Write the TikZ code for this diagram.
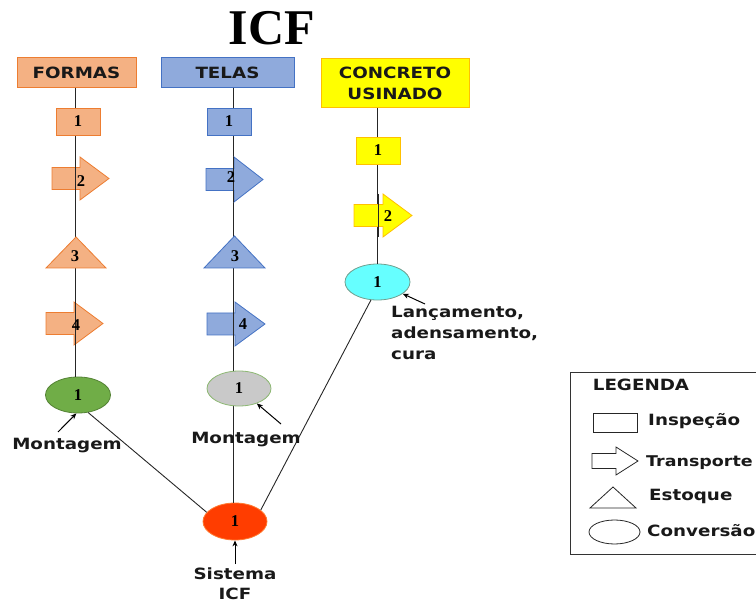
\documentclass[tikz,border=0pt]{standalone}
\usepackage{fontspec}
\setmainfont{Liberation Serif}
\newfontfamily\lab[FakeStretch=1.18]{DejaVu Sans}
\usetikzlibrary{shapes.geometric,arrows.meta}
\definecolor{orfill}{HTML}{F4B183}
\definecolor{ordraw}{HTML}{ED7D31}
\definecolor{blfill}{HTML}{8FAADC}
\definecolor{bldraw}{HTML}{4472C4}
\definecolor{yefill}{HTML}{FFFF00}
\definecolor{yedraw}{HTML}{FFC000}
\definecolor{grfill}{HTML}{70AD47}
\definecolor{grdraw}{HTML}{548235}
\definecolor{gyfill}{HTML}{C9C9C9}
\definecolor{gydraw}{HTML}{8DB873}
\definecolor{cyfill}{HTML}{66FFFF}
\definecolor{cydraw}{HTML}{6F9F8F}
\definecolor{rdfill}{HTML}{FF3D00}
\definecolor{rddraw}{HTML}{FF7A30}
% block arrow: x0, y, length, body length, body half, head half, style
\newcommand\blkarrow[7]{%
  \draw[#7] ({#1},{#2-#5}) -- ({#1+#4},{#2-#5}) -- ({#1+#4},{#2-#6}) -- ({#1+#3},{#2})
    -- ({#1+#4},{#2+#6}) -- ({#1+#4},{#2+#5}) -- ({#1},{#2+#5}) -- cycle;}
% triangle: apex x, apex y, half base, height, style
\newcommand\blktri[5]{%
  \draw[#5] ({#1},{#2}) -- ({#1+#3},{#2+#4}) -- ({#1-#3},{#2+#4}) -- cycle;}
\begin{document}
\begin{tikzpicture}[x=1pt,y=-1pt,
  lbl/.style={font=\lab\bfseries\fontsize{15.5}{21}\selectfont, text=black!90, inner sep=0},
  num/.style={font=\bfseries\fontsize{16.5}{16.5}\selectfont, inner sep=0},
  hdr/.style={draw, line width=1pt, inner sep=0, lbl, align=center},
  rbox/.style={draw, line width=0.8pt, minimum width=44, minimum height=27, inner sep=0, num},
  ell/.style={ellipse, draw, line width=0.8pt, inner sep=0, num},
  flow/.style={draw=black!85, line width=0.9pt},
  ptr/.style={-{Stealth[length=6pt,width=5pt]}, line width=1pt, black},
  legshape/.style={draw=black!85, fill=white, line width=0.8pt}
]
\useasboundingbox (0,0) rectangle (756,604);
\clip (0,0) rectangle (756,604);

% title
\node[font=\bfseries\fontsize{50}{50}\selectfont, anchor=base, inner sep=0] (title) at (272,45) {ICF};

% headers
\node[hdr, fill=orfill, draw=ordraw, minimum width=119, minimum height=30] (fh) at (76.5,73) {FORMAS};
\node[hdr, fill=blfill, draw=bldraw, minimum width=133, minimum height=30] (th) at (227.5,73) {TELAS};
\node[hdr, fill=yefill, draw=yedraw, minimum width=148, minimum height=49] (ch) at (395,83.5) {CONCRETO\\USINADO};

% conversion ellipses
\coordinate (fx) at (75.5,88);
\coordinate (tx) at (233,88);
\node[ell, fill=grfill, draw=grdraw, minimum width=65, minimum height=36] (fe) at (78,395) {1};
\node[ell, fill=cyfill, draw=cydraw, minimum width=65, minimum height=36] (ce) at (377.5,282) {1};
\node[ell, fill=rdfill, draw=rddraw, minimum width=64, minimum height=37] (se) at (235,521.5) {1};

% flow lines
\draw[flow] (fx) -- (fx |- fe.north);
\draw[flow] (tx) -- (tx |- se.north);
\draw[flow] (ce.north |- ch.south) -- (ce.north);
\draw[flow] (fe.-60) -- (se.162);
\draw[flow] (ce.-110) -- (se.24);

% grey ellipse above its line
\node[ell, fill=gyfill, draw=gydraw, minimum width=64, minimum height=35] (te) at (239,388.5) {1};

% FORMAS column
\node[rbox, fill=orfill, draw=ordraw] (f1) at (78,121.5) {1};
\blkarrow{52}{178.5}{57}{28}{11}{21.5}{fill=orfill, draw=ordraw, line width=0.8pt}
\draw[flow] (75.5,157) -- (75.5,200);
\node[num] (f2) at (81,181) {2};
\blktri{76}{237}{30}{31}{fill=orfill, draw=ordraw, line width=0.8pt}
\node[num] (f3) at (75,256) {3};
\blkarrow{46}{323.5}{57}{28}{11}{21.5}{fill=orfill, draw=ordraw, line width=0.8pt}
\draw[flow] (75.5,302) -- (75.5,345);
\node[num] (f4) at (76,325) {4};

% TELAS column
\node[rbox, fill=blfill, draw=bldraw] (t1) at (229,121.5) {1};
\blkarrow{206}{179.5}{57}{28}{11}{22.5}{fill=blfill, draw=bldraw, line width=0.8pt}
\draw[flow] (233,157) -- (233,202);
\node[num] (t2) at (231,177) {2};
\blktri{234.5}{236}{30.5}{32}{fill=blfill, draw=bldraw, line width=0.8pt}
\node[num] (t3) at (235,256) {3};
\blkarrow{207}{324}{58}{28}{11}{22}{fill=blfill, draw=bldraw, line width=0.8pt}
\draw[flow] (233,302) -- (233,346);
\node[num] (t4) at (243,324) {4};

% CONCRETO column
\node[rbox, fill=yefill, draw=yedraw] (c1) at (378,150.5) {1};
\blkarrow{354}{215.5}{58}{29}{11}{21.5}{fill=yefill, draw=yedraw, line width=0.8pt}
\draw[flow] (378,194) -- (378,237);
\node[num] (c2) at (388,216) {2};

% pointer labels
\node[lbl] (mf) at (67,446) {Montagem};
\coordinate (mfa) at (58,432);
\draw[ptr] (mfa) -- (fe.-95);
\node[lbl] (mt) at (246,440) {Montagem};
\coordinate (mta) at (281,424);
\draw[ptr] (mta) -- (te.-40);
\node[lbl, anchor=north west, align=left] (lc) at (391,306) {Lançamento,\\adensamento,\\cura};
\coordinate (lca) at (425,304);
\draw[ptr] (lca) -- (ce.-25);
\node[lbl, align=center, anchor=north, font=\lab\bfseries\fontsize{15.5}{19.5}\selectfont] (si) at (235,568) {Sistema\\ICF};
\coordinate (sia) at (235,564);
\draw[ptr] (sia) -- (se.south);

% legend
\node[draw=black!80, line width=0.8pt, minimum width=220, minimum height=182, anchor=north west, inner sep=0] (leg) at (570,372) {};
\node[lbl] (legt) at (641,385) {LEGENDA};
\node[draw=black!85, fill=white, line width=0.8pt, minimum width=44, minimum height=19, inner sep=0] (l1) at (615,422.5) {};
\node[lbl, anchor=west] (l1t) at (648,421) {Inspeção};
\blkarrow{592}{461}{46}{24}{7.5}{14}{legshape}
\coordinate (l2) at (615,461);
\node[lbl, anchor=west, font=\lab\bfseries\fontsize{14.8}{18}\selectfont] (l2t) at (646,463) {Transporte};
\blktri{613}{487}{23}{21}{legshape}
\coordinate (l3) at (613,498);
\node[lbl, anchor=west] (l3t) at (649,496) {Estoque};
\node[ellipse, draw=black!85, fill=white, line width=0.8pt, minimum width=51, minimum height=24, inner sep=0] (l4) at (614.5,532) {};
\node[lbl, anchor=west] (l4t) at (647,531) {Conversão};
\end{tikzpicture}
\end{document}
